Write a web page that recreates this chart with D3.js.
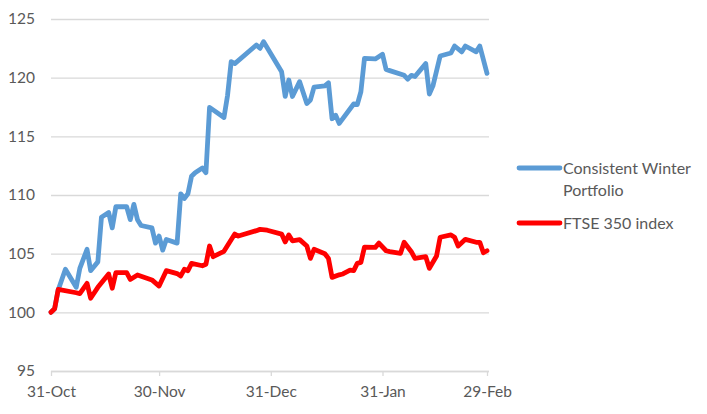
<!DOCTYPE html>
<html>
<head>
<meta charset="utf-8">
<script src="https://cdn.jsdelivr.net/npm/d3@7"></script>
<style>
  html, body { margin: 0; padding: 0; background: #fff; }
  svg { display: block; font-family: Lato, "Open Sans", sans-serif; }
</style>
</head>
<body>
<svg id="chart" width="707" height="414"></svg>
<script>
const seriesNames = ["Consistent Winter Portfolio", "FTSE 350 index"];
const tickDates = ["2015-10-31", "2015-11-30", "2015-12-31", "2016-01-31", "2016-02-29"];
const yTicks = [95, 100, 105, 110, 115, 120, 125];

const portfolioDates = [
  "2015-10-31","2015-11-01","2015-11-02","2015-11-04","2015-11-07","2015-11-08","2015-11-10","2015-11-11","2015-11-13",
  "2015-11-14","2015-11-16","2015-11-17","2015-11-18","2015-11-21","2015-11-22","2015-11-23","2015-11-24",
  "2015-11-25","2015-11-28","2015-11-29","2015-11-30","2015-12-01","2015-12-02","2015-12-05","2015-12-06",
  "2015-12-07","2015-12-08","2015-12-09","2015-12-10","2015-12-12","2015-12-13","2015-12-14","2015-12-18",
  "2015-12-19","2015-12-20","2015-12-21","2015-12-27","2015-12-28","2015-12-29","2016-01-03","2016-01-04",
  "2016-01-05","2016-01-06","2016-01-08","2016-01-10","2016-01-11","2016-01-12","2016-01-15","2016-01-16",
  "2016-01-17","2016-01-18","2016-01-19","2016-01-23","2016-01-24","2016-01-25","2016-01-26","2016-01-29",
  "2016-01-31","2016-02-01","2016-02-02","2016-02-06","2016-02-07","2016-02-08","2016-02-09","2016-02-12",
  "2016-02-13","2016-02-14","2016-02-16","2016-02-19","2016-02-20","2016-02-22","2016-02-23","2016-02-26",
  "2016-02-27","2016-02-29"
];
const portfolioValues = [
  100, 100.3, 101.9, 103.67, 102.13, 103.75, 105.37, 103.55, 104.3,
  108.1, 108.5, 107.2, 109.0, 109.0, 107.9, 109.2, 107.9,
  107.4, 107.2, 105.9, 106.5, 105.3, 106.2, 105.9, 110.1,
  109.7, 110.1, 111.6, 111.9, 112.3, 111.9, 117.47, 116.6,
  118.5, 121.36, 121.2, 122.78, 122.5, 123.07, 120.5, 118.4,
  119.8, 118.4, 119.66, 117.8, 118.1, 119.2, 119.3, 119.56,
  116.5, 116.8, 116.1, 117.76, 117.7, 118.8, 121.65, 121.6,
  122.0, 120.7, 120.6, 120.2, 119.87, 120.2, 120.1, 121.2,
  118.6, 119.3, 121.85, 122.1, 122.7, 122.2, 122.7, 122.2,
  122.7, 120.37
];

const ftseDates = [
  "2015-10-31","2015-11-01","2015-11-02","2015-11-07","2015-11-08","2015-11-10","2015-11-11","2015-11-13",
  "2015-11-16","2015-11-17","2015-11-18","2015-11-21","2015-11-22","2015-11-24","2015-11-28","2015-11-30",
  "2015-12-02","2015-12-05","2015-12-06","2015-12-07","2015-12-08","2015-12-09","2015-12-12","2015-12-13",
  "2015-12-14","2015-12-15","2015-12-18","2015-12-21","2015-12-22","2015-12-27","2015-12-28","2015-12-30",
  "2016-01-03","2016-01-04","2016-01-05","2016-01-06","2016-01-08","2016-01-10","2016-01-11","2016-01-12",
  "2016-01-15","2016-01-16","2016-01-17","2016-01-19","2016-01-20","2016-01-22","2016-01-23","2016-01-24",
  "2016-01-25","2016-01-26","2016-01-29","2016-01-30","2016-02-01","2016-02-02","2016-02-05","2016-02-06",
  "2016-02-08","2016-02-09","2016-02-12","2016-02-13","2016-02-15","2016-02-16","2016-02-19","2016-02-20",
  "2016-02-21","2016-02-23","2016-02-26","2016-02-27","2016-02-28","2016-02-29"
];
const ftseValues = [
  100, 100.3, 101.96, 101.67, 101.6, 102.47, 101.2, 102.13,
  103.27, 102.05, 103.38, 103.38, 102.8, 103.18, 102.76, 102.24,
  103.55, 103.3, 103.1, 103.67, 103.55, 104.17, 103.97, 104.1,
  105.65, 104.74, 105.2, 106.67, 106.5, 106.96, 107.07, 107.0,
  106.67, 106.0, 106.6, 106.1, 106.2, 105.65, 104.6, 105.37,
  105.0, 104.6, 102.98, 103.2, 103.27, 103.6, 103.55, 104.17,
  104.26, 105.56, 105.54, 105.9, 105.25, 105.17, 105.03, 105.97,
  105.17, 104.6, 104.74, 103.75, 104.8, 106.4, 106.6, 106.4,
  105.65, 106.22, 105.97, 105.97, 105.08, 105.25
];

const colors = ["#5B9BD5", "#FF0000"];

(function () {
const parse = d3.timeParse("%Y-%m-%d");
const svg = d3.select("#chart");
const mLeft = 51, mRight = 487, mTop = 19, mBottom = 371;
const font = "Lato, 'Open Sans', sans-serif";

const x = d3.scaleTime()
  .domain([parse(tickDates[0]), parse(tickDates[tickDates.length - 1])])
  .range([mLeft, mRight]);
const y = d3.scaleLinear().domain([95, 125]).range([mBottom, mTop]);

// gridlines + y labels
const yAxis = svg.append("g")
  .attr("transform", `translate(${mLeft},0)`)
  .call(d3.axisLeft(y).tickValues(yTicks).tickSize(-(mRight - mLeft + 2)).tickPadding(16).tickFormat(d3.format("d")));
yAxis.select(".domain").remove();
yAxis.selectAll(".tick line").attr("stroke", "#D9D9D9").attr("stroke-width", 1.3);
yAxis.selectAll(".tick text").attr("fill", "#595959").style("font-size", "15.5px").style("font-family", font);

// x axis
const xAxis = svg.append("g")
  .attr("transform", `translate(0,${mBottom})`)
  .call(d3.axisBottom(x).tickValues(tickDates.map(parse)).tickSize(5).tickPadding(10).tickFormat(d3.timeFormat("%d-%b")));
xAxis.select(".domain").attr("stroke", "#D9D9D9").attr("stroke-width", 1.3).attr("d", `M${mLeft},0.5H${mRight + 2}`);
xAxis.selectAll(".tick line").attr("stroke", "#D9D9D9").attr("stroke-width", 1.3);
xAxis.selectAll(".tick text").attr("fill", "#595959").style("font-size", "15.5px").style("font-family", font);

const line = d3.line().x(d => x(d[0])).y(d => y(d[1]));
const series = [
  portfolioDates.map((d, i) => [parse(d), portfolioValues[i]]),
  ftseDates.map((d, i) => [parse(d), ftseValues[i]])
];
series.forEach((s, i) => {
  svg.append("path")
    .datum(s)
    .attr("fill", "none")
    .attr("stroke", colors[i])
    .attr("stroke-width", 4.8)
    .attr("stroke-linejoin", "round")
    .attr("stroke-linecap", "round")
    .attr("d", line);
});

// legend
const legend = svg.append("g").style("font-family", font).style("font-size", "16px").attr("fill", "#595959");
const legendRows = [
  { lines: ["Consistent Winter", "Portfolio"], y: 168 },
  { lines: ["FTSE 350 index"], y: 223 }
];
legendRows.forEach((r, i) => {
  legend.append("line")
    .attr("x1", 519).attr("x2", 560).attr("y1", r.y).attr("y2", r.y)
    .attr("stroke", colors[i]).attr("stroke-width", 4.8).attr("stroke-linecap", "round");
  const t = legend.append("text").attr("x", 563).attr("y", r.y + 5.5);
  r.lines.forEach((l, j) => {
    t.append("tspan").attr("x", 563).attr("dy", j === 0 ? 0 : 22).text(l);
  });
});
})();
</script>
</body>
</html>
